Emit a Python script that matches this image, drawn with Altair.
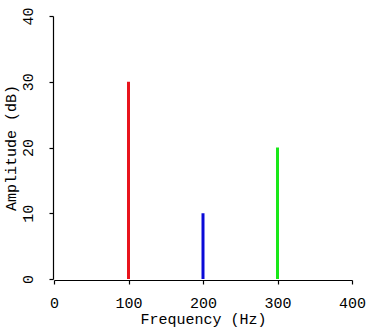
import altair as alt
import pandas as pd

freqs = [100, 200, 300]
amps = [30, 10, 20]
colors = ["#e8141c", "#0a0ad8", "#18e818"]

df = pd.DataFrame({"freq": freqs, "amp": amps, "color": colors})

FONT = "Liberation Mono"
FS = 15

base = alt.Chart(df)

bars = base.mark_rule(strokeWidth=3).encode(
    x=alt.X("freq:Q", scale=alt.Scale(domain=[0, 400], nice=False),
            axis=alt.Axis(values=[0, 100, 200, 300, 400], title="Frequency (Hz)",
                          grid=False, tickSize=4, labelPadding=11, titlePadding=1,
                          labelFlush=False, labelOverlap=False,
                          domainColor="black", tickColor="black", labelColor="black",
                          titleColor="black", labelFont=FONT, titleFont=FONT,
                          labelFontSize=FS, titleFontSize=FS, titleFontWeight="normal",
                          domainWidth=1.2, tickWidth=1.2, offset=1)),
    y=alt.Y("amp:Q", scale=alt.Scale(domain=[0, 40], nice=False),
            axis=alt.Axis(values=[0, 10, 20, 30, 40], title="Amplitude (dB)",
                          grid=False, tickSize=4, labelAngle=-90, labelAlign="center",
                          labelBaseline="bottom", labelPadding=14, titlePadding=2,
                          labelFlush=False, labelOverlap=False,
                          domainColor="black", tickColor="black", labelColor="black",
                          titleColor="black", labelFont=FONT, titleFont=FONT,
                          labelFontSize=FS, titleFontSize=FS, titleFontWeight="normal",
                          domainWidth=1.2, tickWidth=1.2, offset=1)),
    y2=alt.datum(0),
    color=alt.Color("color:N", scale=None),
)

chart = bars.properties(
    width=298, height=263,
    autosize=alt.AutoSizeParams(type="none"),
    padding={"left": 54, "top": 16, "right": 19, "bottom": 53},
    background="white",
).configure_view(stroke=None)

chart.save("out.html", embed_options={"renderer": "svg", "actions": False})
